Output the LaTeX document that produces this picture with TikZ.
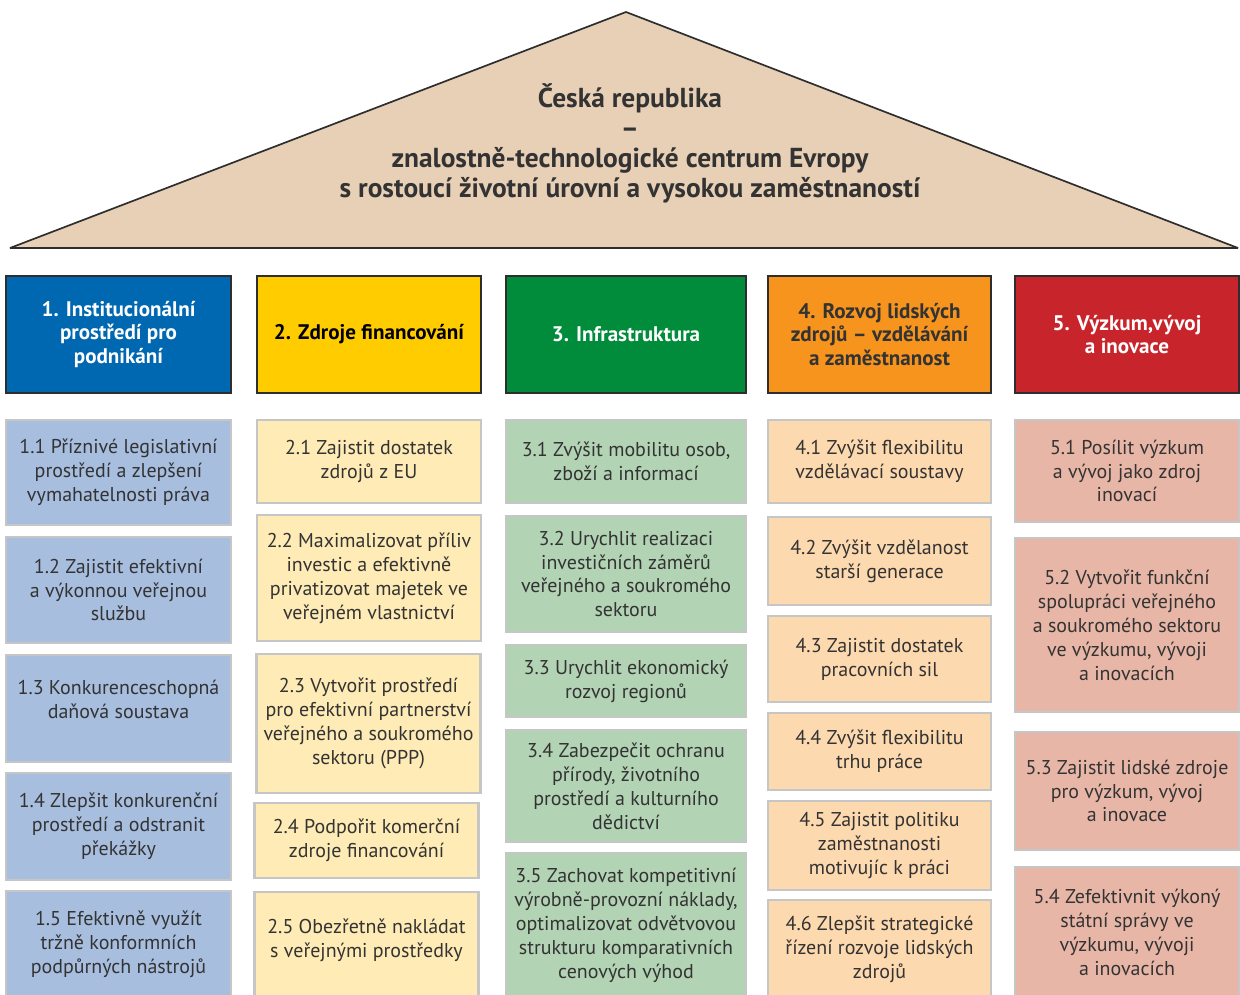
\documentclass[tikz,border=0pt]{standalone}
\usepackage{fontspec}
\setmainfont{PT Sans}
\definecolor{roofbg}{HTML}{E8D0B6}
\definecolor{edgedark}{HTML}{2E2E2E}
\definecolor{edgelight}{HTML}{C6C6C6}
\definecolor{txtdark}{HTML}{333333}
\definecolor{pilblue}{HTML}{0067B1}
\definecolor{pilyellow}{HTML}{FFCC00}
\definecolor{pilgreen}{HTML}{008C3A}
\definecolor{pilorange}{HTML}{F7941D}
\definecolor{pilred}{HTML}{C8242B}
\definecolor{subblue}{HTML}{A8BEDF}
\definecolor{subyellow}{HTML}{FEEBB6}
\definecolor{subgreen}{HTML}{B3D3B5}
\definecolor{suborange}{HTML}{FDD9AF}
\definecolor{subred}{HTML}{E8B6A7}

\begin{document}
\begin{tikzpicture}[x=0.025cm, y=-0.025cm,
    pillar/.style={draw=edgedark, line width=1.5pt, align=center, inner sep=0pt,
      minimum height=2.925cm, font=\bfseries\fontsize{15}{17}\selectfont},
    goal/.style={draw=edgelight, line width=1.5pt, align=center, inner sep=0pt,
      text=txtdark, font=\fontsize{14.2}{17}\selectfont},
    colA/.style={minimum width=5.625cm},
    colB/.style={minimum width=5.6cm},
    colC/.style={minimum width=6cm},
    colD/.style={minimum width=5.575cm},
    colE/.style={minimum width=5.6cm}]
  \clip (0,0) rectangle (1240,994);

  % roof
  \draw[draw=edgedark, fill=roofbg, line width=1.2pt, line join=bevel]
    (10,248) -- (626,12) -- (1238,248) -- cycle;
  \node[align=center, text=txtdark, font=\bfseries\fontsize{19.5}{21.3}\selectfont] (vision) at (630,143)
    {Česká republika\\–\\znalostně-technologické centrum Evropy\\s rostoucí životní úrovní a vysokou zaměstnaností};

  % pillars
  \node[pillar, colA, fill=pilblue, text=white] (p1) at (118.5,334.5) {1. Institucionální\\prostředí pro\\podnikání};
  \node[pillar, colB, fill=pilyellow, text=black] (p2) at (369,334.5) {2. Zdroje financování};
  \node[pillar, colC, fill=pilgreen, text=white] (p3) at (626,334.5) {3. Infrastruktura};
  \node[pillar, colD, fill=pilorange, text=txtdark] (p4) at (879.5,334.5) {4. Rozvoj lidských\\zdrojů – vzdělávání\\a zaměstnanost};
  \node[pillar, colE, fill=pilred, text=white] (p5) at (1127,334.5) {5. Výzkum,vývoj\\a inovace};

  % column 1
  \node[goal, colA, fill=subblue, minimum height=2.625cm] (g11) at (118.5,472.5) {1.1 Příznivé legislativní\\prostředí a zlepšení\\vymahatelnosti práva};
  \node[goal, colA, fill=subblue, minimum height=2.65cm] (g12) at (118.5,590) {1.2 Zajistit efektivní\\a výkonnou veřejnou\\službu};
  \node[goal, colA, fill=subblue, minimum height=2.675cm] (g13) at (118.5,708.5) {1.3 Konkurenceschopná\\daňová soustava\\[-4pt]};
  \node[goal, colA, fill=subblue, minimum height=2.675cm] (g14) at (118.5,826.5) {1.4 Zlepšit konkurenční\\prostředí a odstranit\\překážky};
  \node[goal, colA, fill=subblue, minimum height=2.675cm] (g15) at (118.5,944.5) {1.5 Efektivně využít\\tržně konformních\\podpůrných nástrojů};

  % column 2
  \node[goal, colB, fill=subyellow, minimum height=2.075cm] (g21) at (369,461.5) {2.1 Zajistit dostatek\\zdrojů z EU};
  \node[goal, colB, fill=subyellow, minimum height=3.15cm] (g22) at (369,578) {2.2 Maximalizovat příliv\\investic a efektivně\\privatizovat majetek ve\\veřejném vlastnictví};
  \node[goal, colB, fill=subyellow, minimum height=3.475cm] (g23) at (368.5,723.5) {2.3 Vytvořit prostředí\\pro efektivní partnerství\\veřejného a soukromého\\sektoru (PPP)};
  \node[goal, colB, fill=subyellow, minimum height=1.875cm] (g24) at (366.5,840.5) {2.4 Podpořit komerční\\zdroje financování};
  \node[goal, colB, fill=subyellow, minimum height=2.65cm] (g25) at (366.5,945) {2.5 Obezřetně nakládat\\s veřejnými prostředky\\[-7pt]};

  % column 3
  \node[goal, colC, fill=subgreen, minimum height=2.075cm] (g31) at (626,461.5) {3.1 Zvýšit mobilitu osob,\\zboží a informací};
  \node[goal, colC, fill=subgreen, minimum height=2.9cm] (g32) at (626,574) {3.2 Urychlit realizaci\\investičních záměrů\\veřejného a soukromého\\sektoru};
  \node[goal, colC, fill=subgreen, minimum height=1.8cm] (g33) at (626,681) {3.3 Urychlit ekonomický\\rozvoj regionů};
  \node[goal, colC, fill=subgreen, minimum height=2.8cm] (g34) at (626,786) {3.4 Zabezpečit ochranu\\přírody, životního\\prostředí a kulturního\\dědictví};
  \node[goal, colC, fill=subgreen, minimum height=3.625cm] (g35) at (626,925.5) {3.5 Zachovat kompetitivní\\výrobně-provozní náklady,\\optimalizovat odvětvovou\\strukturu komparativních\\cenových výhod};

  % column 4
  \node[goal, colD, fill=suborange, minimum height=2.075cm] (g41) at (879.5,461.5) {4.1 Zvýšit flexibilitu\\vzdělávací soustavy};
  \node[goal, colD, fill=suborange, minimum height=2.2cm] (g42) at (879.5,561) {4.2 Zvýšit vzdělanost\\starší generace};
  \node[goal, colD, fill=suborange, minimum height=2.15cm] (g43) at (879.5,659) {4.3 Zajistit dostatek\\pracovních sil};
  \node[goal, colD, fill=suborange, minimum height=1.925cm] (g44) at (879.5,751.5) {4.4 Zvýšit flexibilitu\\trhu práce};
  \node[goal, colD, fill=suborange, minimum height=2.225cm] (g45) at (879.5,845.5) {4.5 Zajistit politiku\\zaměstnanosti\\motivujíc k práci};
  \node[goal, colD, fill=suborange, minimum height=2.45cm] (g46) at (879.5,949) {4.6 Zlepšit strategické\\řízení rozvoje lidských\\zdrojů};

  % column 5
  \node[goal, colE, fill=subred, minimum height=2.55cm] (g51) at (1127,471) {5.1 Posílit výzkum\\a vývoj jako zdroj\\inovací};
  \node[goal, colE, fill=subred, minimum height=4.35cm] (g52) at (1127,625) {5.2 Vytvořit funkční\\spolupráci veřejného\\a soukromého sektoru\\ve výzkumu, vývoji\\a inovacích};
  \node[goal, colE, fill=subred, minimum height=2.95cm] (g53) at (1127,791) {5.3 Zajistit lidské zdroje\\pro výzkum, vývoj\\a inovace};
  \node[goal, colE, fill=subred, minimum height=3.275cm] (g54) at (1127,932.5) {5.4 Zefektivnit výkoný\\státní správy ve\\výzkumu, vývoji\\a inovacích};
\end{tikzpicture}
\end{document}
